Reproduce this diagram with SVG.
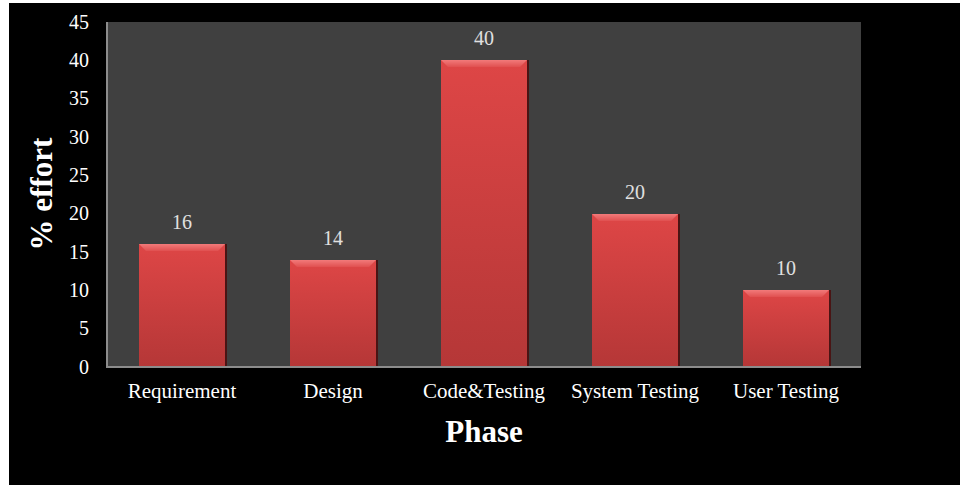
<svg xmlns="http://www.w3.org/2000/svg" width="960" height="485" viewBox="0 0 960 485">
<defs>
<linearGradient id="barFill" x1="0" y1="0" x2="0" y2="1">
<stop offset="0" stop-color="#de4646"/>
<stop offset="1" stop-color="#b53737"/>
</linearGradient>
<linearGradient id="bevelTop" x1="0" y1="0" x2="0" y2="1">
<stop offset="0" stop-color="#f27a7a"/>
<stop offset="1" stop-color="#e05050"/>
</linearGradient>
<style>
.tick{font-family:"Liberation Serif","Times New Roman",serif;font-size:20px;fill:#ffffff;text-anchor:end}
.cat{font-family:"Liberation Serif","Times New Roman",serif;font-size:21px;fill:#ffffff;text-anchor:middle}
.val{font-family:"Liberation Serif","Times New Roman",serif;font-size:20px;fill:#e0e0e0;text-anchor:middle}
.title{font-family:"Liberation Serif","Times New Roman",serif;font-size:31px;font-weight:bold;fill:#ffffff;text-anchor:middle}
.bar{fill:url(#barFill)}
.shadow{fill:#4a1414}
.top{fill:url(#bevelTop)}
.axis{stroke:#8c8c8c;stroke-width:2;fill:none}
</style>
</defs>
<rect x="0" y="0" width="960" height="485" fill="#ffffff"/>
<rect x="9" y="3" width="951" height="482" fill="#000000"/>
<rect id="plot-area" x="107" y="22" width="754" height="345" fill="#404040"/>
<g id="y-ticks">
<text class="tick" x="89" y="29">45</text>
<text class="tick" x="89" y="67">40</text>
<text class="tick" x="89" y="105">35</text>
<text class="tick" x="89" y="144">30</text>
<text class="tick" x="89" y="182">25</text>
<text class="tick" x="89" y="220">20</text>
<text class="tick" x="89" y="259">15</text>
<text class="tick" x="89" y="297">10</text>
<text class="tick" x="89" y="335">5</text>
<text class="tick" x="89" y="374">0</text>
</g>
<g id="bar-requirement">
<rect class="shadow" x="139" y="244" width="88" height="123"/>
<rect class="bar" x="139" y="244" width="86" height="123"/>
<polygon class="top" points="139,244 225,244 218,251 146,251"/>
<text class="val" x="182" y="229">16</text>
<text class="cat" x="182" y="398">Requirement</text>
</g>
<g id="bar-design">
<rect class="shadow" x="290" y="260" width="88" height="107"/>
<rect class="bar" x="290" y="260" width="86" height="107"/>
<polygon class="top" points="290,260 376,260 369,267 297,267"/>
<text class="val" x="333" y="245">14</text>
<text class="cat" x="333" y="398">Design</text>
</g>
<g id="bar-code-testing">
<rect class="shadow" x="441" y="60" width="88" height="307"/>
<rect class="bar" x="441" y="60" width="86" height="307"/>
<polygon class="top" points="441,60 527,60 520,67 448,67"/>
<text class="val" x="484" y="45">40</text>
<text class="cat" x="484" y="398">Code&amp;Testing</text>
</g>
<g id="bar-system-testing">
<rect class="shadow" x="592" y="214" width="88" height="153"/>
<rect class="bar" x="592" y="214" width="86" height="153"/>
<polygon class="top" points="592,214 678,214 671,221 599,221"/>
<text class="val" x="635" y="199">20</text>
<text class="cat" x="635" y="398">System Testing</text>
</g>
<g id="bar-user-testing">
<rect class="shadow" x="743" y="290" width="88" height="77"/>
<rect class="bar" x="743" y="290" width="86" height="77"/>
<polygon class="top" points="743,290 829,290 822,297 750,297"/>
<text class="val" x="786" y="275">10</text>
<text class="cat" x="786" y="398">User Testing</text>
</g>
<g id="axes">
<line class="axis" x1="107" y1="22" x2="107" y2="367"/>
<line class="axis" x1="106" y1="367" x2="861" y2="367"/>
</g>
<text class="title" x="484" y="442">Phase</text>
<text class="title" transform="translate(52,194) rotate(-90)" x="0" y="0">% effort</text>
</svg>
